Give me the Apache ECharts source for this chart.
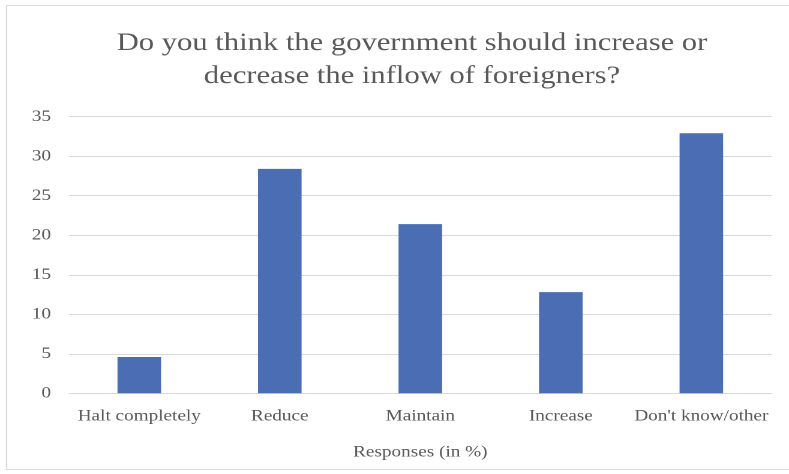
<!DOCTYPE html>
<html><head><meta charset="utf-8">
<script src="https://cdn.jsdelivr.net/npm/echarts@6/dist/echarts.min.js"></script>
<style>html,body{margin:0;padding:0;background:#fff;overflow:hidden}
#c{width:657.5px;height:474px;transform:scaleX(1.2);transform-origin:0 0}</style>
</head><body><div id="c"></div>
<script>
const categories = ["Halt completely", "Reduce", "Maintain", "Increase", "Don't know/other"];
const values = [4.6, 28.4, 21.4, 12.8, 32.9];
const yTicks = [0, 5, 10, 15, 20, 25, 30, 35];
const titleText = "Do you think the government should increase or\ndecrease the inflow of foreigners?";
const xAxisName = "Responses (in %)";

const SX = 1.2; // horizontal stretch of the reference image
const chart = echarts.init(document.getElementById('c'), null, {renderer: 'canvas', devicePixelRatio: 2});
const serif = '"Liberation Serif", "Times New Roman", serif';
chart.setOption({
  animation: false,
  backgroundColor: '#fff',
  graphic: [{type: 'rect', shape: {x: 6.5 / SX, y: 5.5, width: 790 / SX, height: 464}, style: {fill: 'none', stroke: '#d9d9d9', lineWidth: 1}}],
  title: {
    text: titleText, left: 406 / SX, top: 22, textAlign: 'center',
    textStyle: {fontFamily: serif, fontSize: 25.5, fontWeight: 'normal', color: '#595959', lineHeight: 33}
  },
  grid: {left: 69 / SX, right: 18 / SX, top: 116.7, bottom: 80.7, containLabel: false},
  xAxis: {
    type: 'category', data: categories,
    name: xAxisName, nameLocation: 'middle', nameGap: 51,
    nameTextStyle: {fontFamily: serif, fontSize: 16, color: '#595959'},
    axisLine: {lineStyle: {color: '#d9d9d9'}}, axisTick: {show: false},
    axisLabel: {fontFamily: serif, fontSize: 16, color: '#595959', margin: 15, interval: 0}
  },
  yAxis: {
    type: 'value', min: yTicks[0], max: yTicks[yTicks.length-1], interval: 5,
    axisLine: {show: false}, axisTick: {show: false},
    splitLine: {lineStyle: {color: '#d9d9d9', width: 1}},
    axisLabel: {fontFamily: serif, fontSize: 16, color: '#595959', margin: 15}
  },
  series: [{type: 'bar', data: values, barWidth: '31%', itemStyle: {color: '#4a6db4'}}]
});
</script></body></html>
